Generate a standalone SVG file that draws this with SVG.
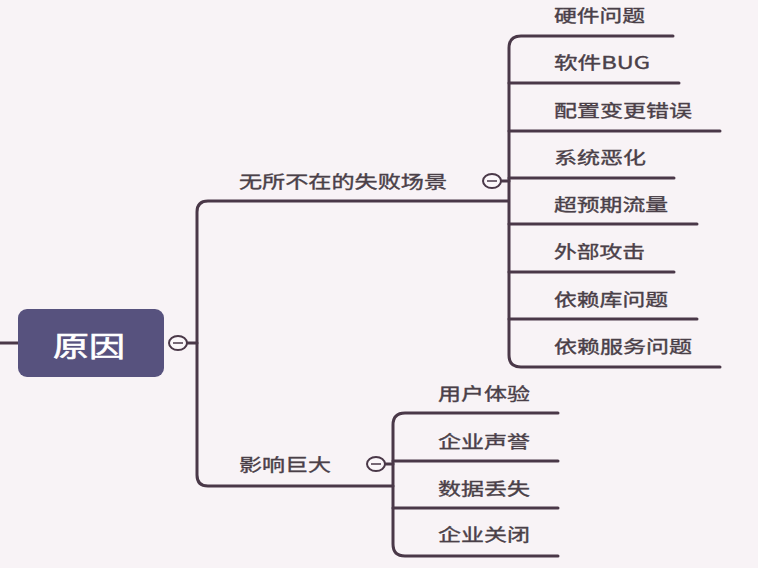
<svg xmlns="http://www.w3.org/2000/svg" width="758" height="568" viewBox="0 0 758 568">
<style>
.ln{fill:none;stroke:#4a3848;stroke-width:3;stroke-linecap:round;stroke-linejoin:round}
.tg{fill:#fbf7fa;stroke:#4a3848;stroke-width:2}
.t{font-family:"Noto Sans CJK SC","Liberation Sans",sans-serif;font-size:17px;fill:#4a4048;stroke:#4a4048;stroke-width:0.35}
.r{font-family:"Noto Sans CJK SC","Liberation Sans",sans-serif;font-size:28px;fill:#ffffff;stroke:#ffffff;stroke-width:0.6}
</style>
<rect width="758" height="568" fill="#f8f3f6"/>
<g id="connectors">
<path class="ln" d="M0 343 H18"/>
<path class="ln" d="M187 343 H197"/>
<path class="ln" d="M508 201 H208 Q197 201 197 212 V475 Q197 486 208 486 H393"/>
<path class="ln" d="M500 181 H509"/>
<path class="ln" d="M673 36 H521 Q509 36 509 48 V355 Q509 367 521 367 H720"/>
<path class="ln" d="M509 83 H679"/>
<path class="ln" d="M509 131 H720"/>
<path class="ln" d="M509 178 H674"/>
<path class="ln" d="M509 224 H697"/>
<path class="ln" d="M509 272 H674"/>
<path class="ln" d="M509 319 H697"/>
<path class="ln" d="M384 464 H393"/>
<path class="ln" d="M558 413 H405 Q393 413 393 425 V544 Q393 556 405 556 H558"/>
<path class="ln" d="M393 461 H558"/>
<path class="ln" d="M393 508 H558"/>
</g>
<g id="root">
<rect x="18" y="309" width="146" height="68" rx="9" fill="#57527e"/>
<text class="r" x="53" y="357" textLength="72" lengthAdjust="spacingAndGlyphs">原因</text>
<ellipse class="tg" cx="178" cy="343" rx="9" ry="7"/>
<path d="M173 343 H183" stroke="#4a3848" stroke-width="1.5"/>
</g>
<g id="n-fail">
<text class="t" x="239" y="188" textLength="208" lengthAdjust="spacingAndGlyphs">无所不在的失败场景</text>
<ellipse class="tg" cx="492" cy="181" rx="9" ry="7"/>
<path d="M487 181 H497" stroke="#4a3848" stroke-width="1.5"/>
</g>
<g id="n-impact">
<text class="t" x="239" y="471" textLength="92" lengthAdjust="spacingAndGlyphs">影响巨大</text>
<ellipse class="tg" cx="376" cy="464" rx="9" ry="7"/>
<path d="M371 464 H381" stroke="#4a3848" stroke-width="1.5"/>
</g>
<g id="n1"><text class="t" x="554" y="22" textLength="91" lengthAdjust="spacingAndGlyphs">硬件问题</text></g>
<g id="n2"><text class="t" x="554" y="69" textLength="96" lengthAdjust="spacingAndGlyphs">软件BUG</text></g>
<g id="n3"><text class="t" x="554" y="117" textLength="138" lengthAdjust="spacingAndGlyphs">配置变更错误</text></g>
<g id="n4"><text class="t" x="554" y="164" textLength="92" lengthAdjust="spacingAndGlyphs">系统恶化</text></g>
<g id="n5"><text class="t" x="554" y="211" textLength="114" lengthAdjust="spacingAndGlyphs">超预期流量</text></g>
<g id="n6"><text class="t" x="554" y="258" textLength="91" lengthAdjust="spacingAndGlyphs">外部攻击</text></g>
<g id="n7"><text class="t" x="554" y="306" textLength="114" lengthAdjust="spacingAndGlyphs">依赖库问题</text></g>
<g id="n8"><text class="t" x="554" y="353" textLength="138" lengthAdjust="spacingAndGlyphs">依赖服务问题</text></g>
<g id="m1"><text class="t" x="438" y="400" textLength="92" lengthAdjust="spacingAndGlyphs">用户体验</text></g>
<g id="m2"><text class="t" x="438" y="448" textLength="92" lengthAdjust="spacingAndGlyphs">企业声誉</text></g>
<g id="m3"><text class="t" x="438" y="495" textLength="92" lengthAdjust="spacingAndGlyphs">数据丢失</text></g>
<g id="m4"><text class="t" x="438" y="541" textLength="92" lengthAdjust="spacingAndGlyphs">企业关闭</text></g>
</svg>
